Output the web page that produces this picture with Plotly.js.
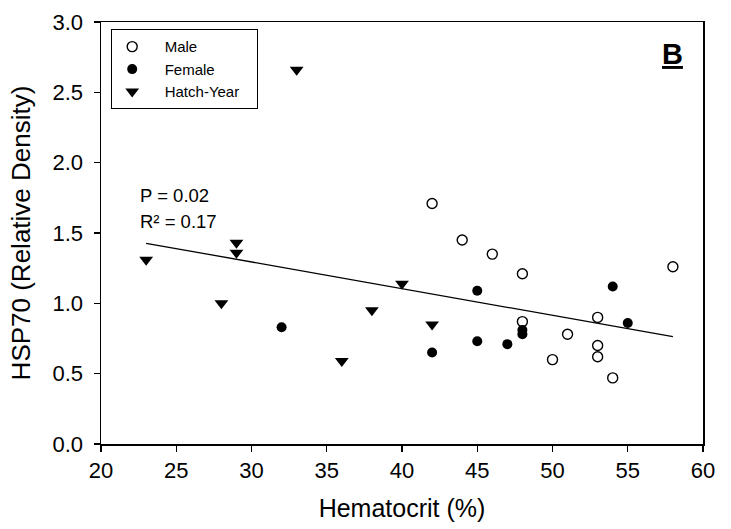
<!DOCTYPE html>
<html>
<head>
<meta charset="utf-8">
<script src="https://cdn.plot.ly/plotly-3.0.1.min.js"></script>
<style>html,body{margin:0;padding:0;background:#fff;}#chart{width:731px;height:529px;}</style>
</head>
<body>
<div id="chart"></div>
<script>
// Male (open circles)
const maleX = [42, 44, 46, 48, 58, 48, 53, 51, 53, 53, 50, 54];
const maleY = [1.71, 1.45, 1.35, 1.21, 1.26, 0.87, 0.90, 0.78, 0.70, 0.62, 0.60, 0.47];
// Female (filled circles)
const femaleX = [45, 54, 55, 48, 48, 45, 47, 42, 32];
const femaleY = [1.09, 1.12, 0.86, 0.81, 0.78, 0.73, 0.71, 0.65, 0.83];
// Hatch-Year (filled down triangles)
const hatchX = [33, 23, 29, 29, 28, 36, 38, 40, 42];
const hatchY = [2.66, 1.31, 1.43, 1.36, 1.00, 0.59, 0.95, 1.14, 0.85];
// Regression line end points
const fitX = [23, 58];
const fitY = [1.427, 0.763];
// Axis ticks
const xTicks = [20, 25, 30, 35, 40, 45, 50, 55, 60];
const yTicks = [0.0, 0.5, 1.0, 1.5, 2.0, 2.5, 3.0];

const FONT = 'Arial, "Liberation Sans", sans-serif';

const traces = [
  {x: maleX, y: maleY, type: 'scatter', mode: 'markers', name: '&nbsp;&nbsp;&nbsp;Male',
   marker: {symbol: 'circle-open', size: 10, color: '#000', line: {width: 1.4, color: '#000'}}},
  {x: femaleX, y: femaleY, type: 'scatter', mode: 'markers', name: '&nbsp;&nbsp;&nbsp;Female',
   marker: {symbol: 'circle', size: 10, color: '#000'}},
  {x: hatchX, y: hatchY, type: 'scatter', mode: 'markers', name: '&nbsp;&nbsp;&nbsp;Hatch-Year&nbsp;&nbsp;&nbsp;',
   marker: {symbol: 'triangle-down', size: 12, color: '#000'}},
  {x: fitX, y: fitY, type: 'scatter', mode: 'lines', showlegend: false,
   line: {color: '#000', width: 1.3}, hoverinfo: 'skip'}
];

const layout = {
  width: 731, height: 529,
  margin: {l: 101, r: 28, t: 22, b: 85},
  paper_bgcolor: '#fff', plot_bgcolor: '#fff',
  font: {family: FONT, color: '#000'},
  showlegend: true,
  legend: {
    x: 0.0166, y: 0.983, xanchor: 'left', yanchor: 'top',
    bordercolor: '#000', borderwidth: 1.2, bgcolor: '#fff',
    font: {family: FONT, size: 15, color: '#000'},
    itemwidth: 30, tracegroupgap: 0
  },
  xaxis: {
    range: [20, 60], tickvals: xTicks, ticktext: xTicks.map(String),
    showgrid: false, zeroline: false,
    showline: true, linecolor: '#000', linewidth: 1.5, mirror: true,
    ticks: 'outside', ticklen: 6, tickwidth: 1.2, tickcolor: '#000',
    tickfont: {family: FONT, size: 22, color: '#000'},
    title: {text: 'Hematocrit (%)', font: {family: FONT, size: 25, color: '#000'}, standoff: 17}
  },
  yaxis: {
    range: [0, 3], tickvals: yTicks, ticktext: yTicks.map(v => v.toFixed(1)),
    showgrid: false, zeroline: false,
    showline: true, linecolor: '#000', linewidth: 1.5, mirror: true,
    ticks: 'outside', ticklen: 6, tickwidth: 1.2, tickcolor: '#000',
    ticklabelstandoff: 6,
    tickfont: {family: FONT, size: 22, color: '#000'},
    title: {text: 'HSP70 (Relative Density)', font: {family: FONT, size: 26, color: '#000'}, standoff: 14}
  },
  annotations: [
    {xref: 'paper', yref: 'paper', x: 0.062, y: 0.59, xanchor: 'left', yanchor: 'middle',
     text: 'P = 0.02', showarrow: false, font: {family: FONT, size: 18.5, color: '#000'}},
    {xref: 'paper', yref: 'paper', x: 0.062, y: 0.528, xanchor: 'left', yanchor: 'middle',
     text: 'R² = 0.17', showarrow: false, font: {family: FONT, size: 18.5, color: '#000'}},
    {xref: 'paper', yref: 'paper', x: 0.95, y: 0.925, xanchor: 'center', yanchor: 'middle',
     text: '<u><b>B</b></u>', showarrow: false, font: {family: FONT, size: 29, color: '#000'}}
  ]
};

Plotly.newPlot('chart', traces, layout, {displayModeBar: false, staticPlot: true});
</script>
</body>
</html>
